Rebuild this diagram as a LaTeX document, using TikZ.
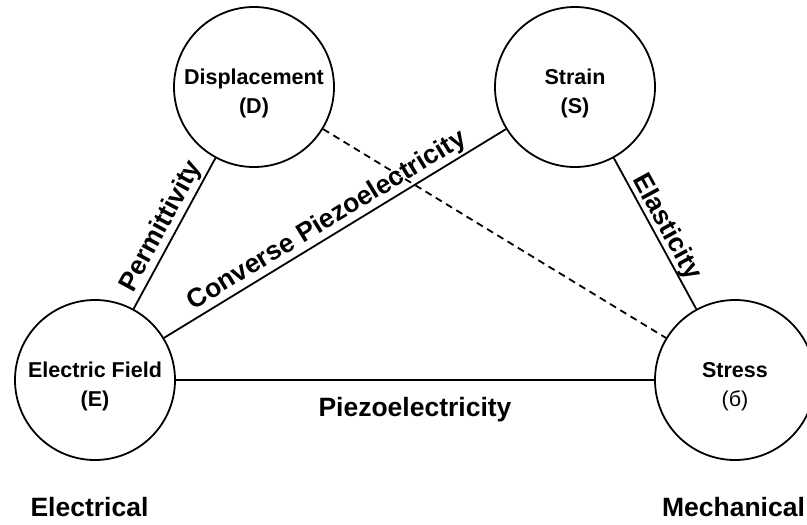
\documentclass[tikz,border=0pt]{standalone}
\usepackage{fontspec}
\setmainfont{Liberation Sans}
\begin{document}
\begin{tikzpicture}[x=1pt,y=-1pt,
  state/.style={circle, draw, line width=1.8pt, minimum size=160pt, inner sep=0pt},
  intext/.style={align=center, font=\fontsize{21.5}{29}\selectfont\bfseries, yshift=-6.5pt},
  conn/.style={line width=1.8pt},
  lbl/.style={font=\fontsize{26.5}{30}\selectfont\bfseries, sloped, anchor=base, inner sep=0pt},
  side/.style={font=\fontsize{26.5}{30}\selectfont\bfseries, inner sep=0pt}
]
\useasboundingbox (0,0) rectangle (807,525);
\clip (0,0) rectangle (807,525);

\node[state, label={[intext]center:Displacement\\(D)}] (D) at (254,87) {};
\node[state, label={[intext]center:Strain\\(S)}] (S) at (575,87) {};
\node[state, label={[intext]center:Electric Field\\(E)}] (E) at (95,380) {};
\node[state, label={[intext]center:Stress\\{\mdseries(б)}}] (T) at (735,380) {};

\draw[conn] (E) -- node[lbl, yshift=8pt]{Permittivity} (D);
\draw[conn] (E) -- node[lbl, yshift=8pt]{Converse Piezoelectricity} (S);
\draw[conn] (S) -- node[lbl, yshift=6pt]{Elasticity} (T);
\draw[conn] (E) -- node[lbl, yshift=-36pt]{Piezoelectricity} (T);
\draw[conn, dash pattern=on 7pt off 5pt] (D) -- (T);

\node[side] (el) at (89.5,507.5) {Electrical};
\node[side] (me) at (733.5,507.5) {Mechanical};
\end{tikzpicture}
\end{document}
